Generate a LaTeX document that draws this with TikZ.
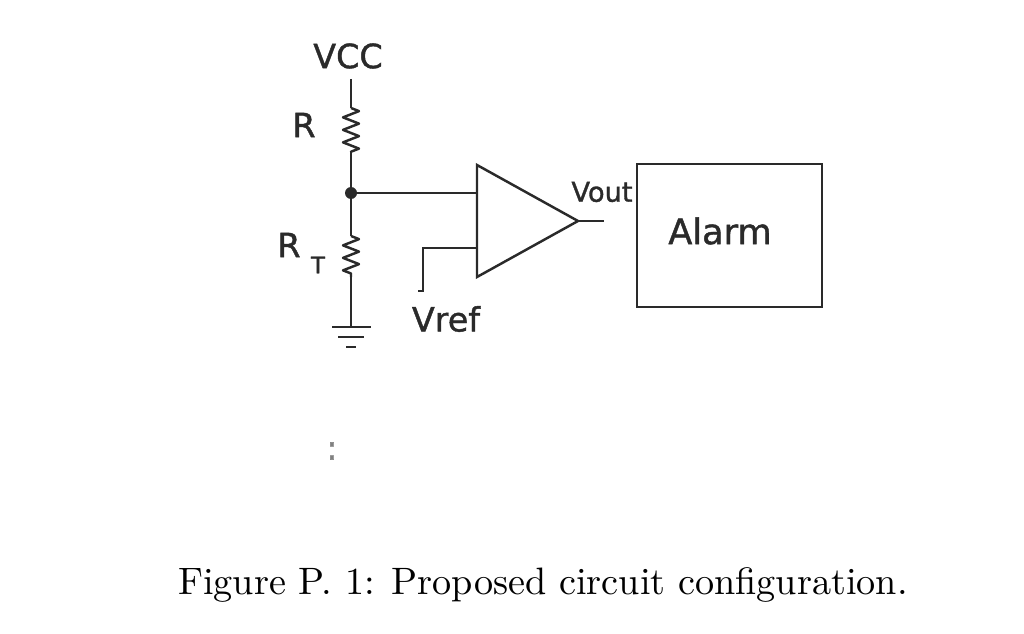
\documentclass[tikz,border=0pt]{standalone}
\usepackage{fontspec}
\newfontfamily\labelfont[FakeBold=1.2]{DejaVu Sans}
\usetikzlibrary{decorations.pathmorphing}
\definecolor{inkdark}{HTML}{2A2A2A}
\tikzset{
    wire/.style={draw=inkdark,line width=1.4pt},
    resistor/.style={wire,line join=round,decorate,decoration={zigzag,segment length=.25cm,amplitude=.16cm}},
    lbl/.style={text=inkdark,inner sep=0pt,font=\labelfont\fontsize{19}{19}\selectfont},
}
\begin{document}
\begin{tikzpicture}[x=.02cm,y=.02cm]

    \useasboundingbox (0,0) rectangle (1024,633);

    % rail points
    \coordinate (vcctop) at (351,554);
    \coordinate (rtop) at (351,525);
    \coordinate (rbot) at (351,481);
    \coordinate (junction) at (351,440);
    \coordinate (rttop) at (351,397);
    \coordinate (rtbot) at (351,356);
    \coordinate (gnd) at (351,305);

    % comparator
    \coordinate (amptop) at (477,468);
    \coordinate (ampbot) at (477,356);
    \coordinate (amptip) at (578,412);
    \coordinate (ampplus) at (477,440);
    \coordinate (ampminus) at (477,385);
    \coordinate (ampout) at (604,412);
    \coordinate (refcorner) at (423,385);
    \coordinate (refdown) at (423,342);
    \coordinate (refend) at (418,342);

    % rail
    \draw[wire] (vcctop) -- (rtop);
    \draw[resistor] (rtop) -- (rbot);
    \draw[wire] (rbot) -- (junction) -- (rttop);
    \draw[resistor] (rttop) -- (rtbot);
    \draw[wire] (rtbot) -- (gnd);
    \fill[inkdark] (junction) circle (6);

    % ground
    \draw[wire] (332,306) -- (371,306);
    \draw[wire] (338,296) -- (364,296);
    \draw[wire] (346,286) -- (356,286);

    % comparator and wires
    \draw[wire,line join=miter] (amptop) -- (amptip) -- (ampbot) -- cycle;
    \draw[wire] (junction) -- (ampplus);
    \draw[wire] (ampminus) -- (refcorner) -- (refdown) -- (refend);
    \draw[wire] (amptip) -- (ampout);

    % alarm box
    \node[wire,minimum width=3.7cm,minimum height=2.86cm,inner sep=0pt] (alarmbox) at (729.5,397.5) {};

    % labels
    \node[lbl] (vcc) at (348,577) {VCC};
    \node[lbl] (rlabel) at (304,508) {R};
    \node[lbl] (rtlabel) at (289,388) {R};
    \node[lbl,font=\labelfont\fontsize{13}{13}\selectfont] (rtsub) at (318,368) {T};
    \node[lbl] (vref) at (446,314) {Vref};
    \node[lbl,font=\labelfont\fontsize{15.5}{15.5}\selectfont] (vout) at (602,441) {Vout};
    \node[lbl,font=\labelfont\fontsize{20}{20}\selectfont] (alarm) at (720,402) {Alarm};
    \node[lbl,font=\labelfont\fontsize{19}{19}\selectfont,text=gray] (specks) at (332,182) {:};

    % caption
    \node[inner sep=0pt,text=black,scale=2.175] (caption) at (543,48) {Figure P. 1: Proposed circuit configuration.};
\end{tikzpicture}
\end{document}
